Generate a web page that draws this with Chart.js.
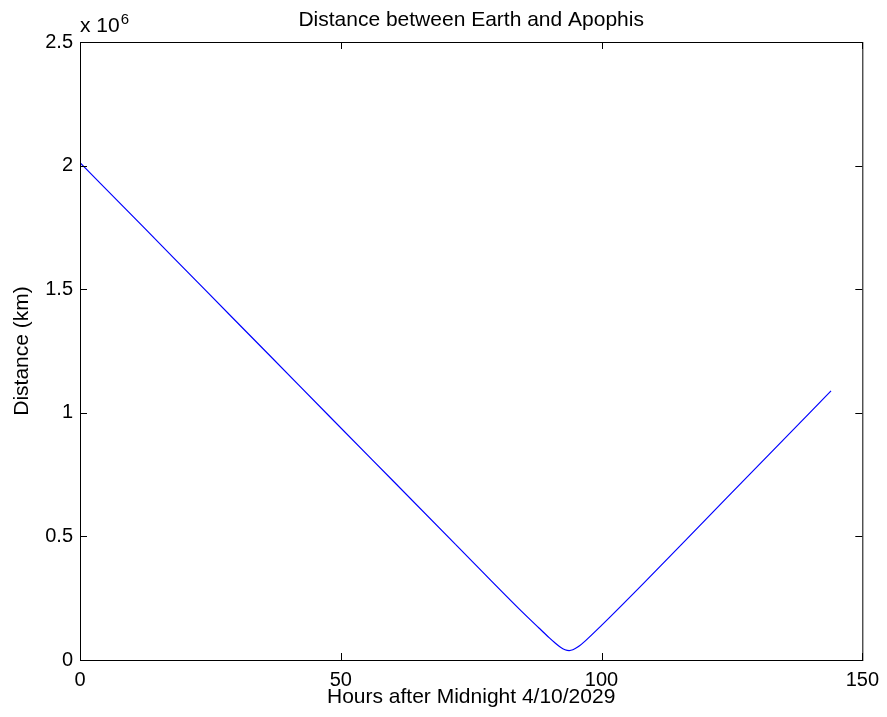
<!DOCTYPE html>
<html>
<head>
<meta charset="utf-8">
<script src="https://cdn.jsdelivr.net/npm/chart.js@4.4.0/dist/chart.umd.min.js"></script>
<style>
  body { margin: 0; background: #fff; }
  canvas { display: block; }
</style>
</head>
<body>
<canvas id="apophis" width="887" height="717"></canvas>
<script>
// hours after midnight 4/10/2029
const hours = [0, 12, 24, 36, 48, 60, 72, 84, 88, 90, 91, 92, 93, 93.8, 94.5, 95.5, 97, 100, 108, 120, 132, 144];
// distance in km
const distanceKm = [2012000, 1755000, 1497000, 1240000, 982000, 725000, 468000, 211000, 129500, 89400, 70500, 53700, 41400, 38000, 41200, 53300, 79500, 140000, 309000, 569000, 829000, 1088500];
const xTicks = [0, 50, 100, 150];
const yTicks = [0, 0.5e6, 1e6, 1.5e6, 2e6, 2.5e6];
const chartTitle = 'Distance between Earth and Apophis';

const FONT = "'Liberation Sans', Arial, Helvetica, sans-serif";
const TICK = 7;

// box round the plot, inward ticks on all four sides, title and the x 10^6 label
const boxPlugin = {
    id: 'box',
    afterDraw(chart) {
        const { ctx, chartArea: { left, top, right, bottom }, scales: { x, y } } = chart;
        ctx.save();
        ctx.strokeStyle = '#000';
        ctx.lineWidth = 1;
        ctx.strokeRect(left + 0.5, top + 0.5, right - left, bottom - top);
        ctx.beginPath();
        for (const t of x.ticks) {
            const px = Math.round(x.getPixelForValue(t.value)) + 0.5;
            ctx.moveTo(px, bottom); ctx.lineTo(px, bottom - TICK);
            ctx.moveTo(px, top); ctx.lineTo(px, top + TICK);
        }
        for (const t of y.ticks) {
            const py = Math.round(y.getPixelForValue(t.value)) + 0.5;
            ctx.moveTo(left, py); ctx.lineTo(left + TICK, py);
            ctx.moveTo(right, py); ctx.lineTo(right - TICK, py);
        }
        ctx.stroke();

        ctx.fillStyle = '#000';
        ctx.textBaseline = 'alphabetic';
        ctx.textAlign = 'center';
        ctx.font = '21px ' + FONT;
        ctx.fillText(chartTitle, (left + right) / 2, 26);

        ctx.textAlign = 'left';
        ctx.fillText('x 10', left, top - 10);
        const w = ctx.measureText('x 10').width;
        ctx.font = '15px ' + FONT;
        ctx.fillText('6', left + w + 1, top - 18);
        ctx.restore();
    }
};

new Chart(document.getElementById('apophis').getContext('2d'), {
    type: 'line',
    data: {
        datasets: [{
            data: hours.map((h, i) => ({ x: h, y: distanceKm[i] })),
            borderColor: '#0000ff',
            borderWidth: 1.2,
            pointRadius: 0,
            cubicInterpolationMode: 'monotone',
            fill: false
        }]
    },
    options: {
        responsive: false,
        animation: false,
        devicePixelRatio: 1,
        layout: { padding: { right: 23, left: 0, top: 42, bottom: 0 } },
        plugins: {
            legend: { display: false },
            tooltip: { enabled: false },
            title: { display: false }
        },
        scales: {
            x: {
                type: 'linear',
                min: 0,
                max: 150,
                afterBuildTicks: scale => { scale.ticks = xTicks.map(v => ({ value: v })); },
                afterFit: scale => { scale.height = 57; },
                grid: { display: false, drawTicks: false },
                border: { display: false },
                ticks: {
                    color: '#000',
                    font: { family: FONT, size: 20 },
                    padding: 8,
                    maxRotation: 0
                },
                title: {
                    display: true,
                    text: 'Hours after Midnight 4/10/2029',
                    color: '#000',
                    font: { family: FONT, size: 21 },
                    padding: { top: 0, bottom: 7 }
                }
            },
            y: {
                min: 0,
                max: 2.5e6,
                afterBuildTicks: scale => { scale.ticks = yTicks.map(v => ({ value: v })); },
                afterFit: scale => { scale.width = 80; },
                grid: { display: false, drawTicks: false },
                border: { display: false },
                ticks: {
                    color: '#000',
                    font: { family: FONT, size: 20 },
                    padding: 7,
                    callback: v => String(v / 1e6)
                },
                title: {
                    display: true,
                    text: 'Distance (km)',
                    color: '#000',
                    font: { family: FONT, size: 21 },
                    padding: { top: 10, bottom: 0 }
                }
            }
        }
    },
    plugins: [boxPlugin]
});
</script>
</body>
</html>
